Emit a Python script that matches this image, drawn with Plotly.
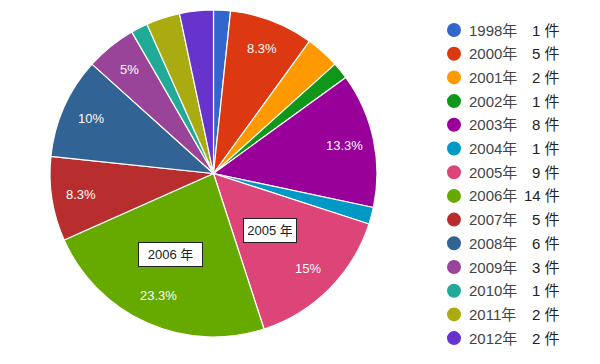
import math
import plotly.graph_objects as go

years = ["1998年", "2000年", "2001年", "2002年", "2003年", "2004年", "2005年",
         "2006年", "2007年", "2008年", "2009年", "2010年", "2011年", "2012年"]
counts = [1, 5, 2, 1, 8, 1, 9, 14, 5, 6, 3, 1, 2, 2]
colors = ["#3366cc", "#dc3912", "#ff9900", "#109618", "#990099", "#0099c6", "#dd4477",
          "#66aa00", "#b82e2e", "#316395", "#994499", "#22aa99", "#aaaa11", "#6633cc"]
callouts = ["2005 年", "2006 年"]

W, H = 600, 364
CX, CY, R = 213.5, 173.5, 163.5  # pie centre / radius in pixels

total = sum(counts)
fig = go.Figure()
fig.add_trace(go.Pie(
    labels=years, values=counts, textinfo="none",
    sort=False, direction="clockwise", rotation=0,
    marker=dict(colors=colors, line=dict(color="white", width=1.2)),
    domain=dict(x=[(CX - R) / W, (CX + R) / W], y=[(H - CY - R) / H, (H - CY + R) / H]),
    showlegend=False, hoverinfo="label+value+percent",
))

annotations = []
# percentage labels placed at 0.82 R along each slice's mid-angle
cum = 0
for c in counts:
    mid = (cum + c / 2) / total * 2 * math.pi
    cum += c
    p = c / total * 100
    if p < 5:
        continue
    s = f"{p:.1f}".rstrip("0").rstrip(".") + "%"
    r = 0.82 * R
    px = CX + r * math.sin(mid)
    py = CY - r * math.cos(mid)
    annotations.append(dict(text=s, xref="paper", yref="paper",
                            x=px / W, y=(H - py) / H, xanchor="center", yanchor="middle",
                            showarrow=False,
                            font=dict(size=13, color="white", family="Liberation Sans")))

shapes = []
y0 = 30
step = 23.7
for i, (yr, c, col) in enumerate(zip(years, counts, colors)):
    y = y0 + i * step
    shapes.append(dict(type="circle", xref="paper", yref="paper",
                       x0=(454 - 7) / W, x1=(454 + 7) / W,
                       y0=(H - y - 7) / H, y1=(H - y + 7) / H,
                       fillcolor=col, line=dict(width=0)))
    annotations.append(dict(text=yr, xref="paper", yref="paper",
                            x=467 / W, y=(H - y) / H, xanchor="left", yanchor="middle",
                            showarrow=False,
                            font=dict(size=15, color="#444444", family="Liberation Sans, Noto Sans CJK JP")))
    annotations.append(dict(text=f"{c} 件", xref="paper", yref="paper",
                            x=562 / W, y=(H - y) / H, xanchor="right", yanchor="middle",
                            showarrow=False,
                            font=dict(size=15, color="#222222", family="Liberation Sans, Noto Sans CJK JP")))

# callout boxes
for txt, (cx, cy), bw in zip(callouts, [(270, 230.5), (170, 255)], [44, 55]):
    annotations.append(dict(text=txt, xref="paper", yref="paper",
                            x=cx / W, y=(H - cy) / H, xanchor="center", yanchor="middle",
                            showarrow=False, bgcolor="white", bordercolor="#222222",
                            borderwidth=1, borderpad=4, width=bw, height=15,
                            font=dict(size=13, color="#222222", family="Liberation Sans, Noto Sans CJK JP")))

fig.update_layout(width=W, height=H, margin=dict(l=0, r=0, t=0, b=0),
                  paper_bgcolor="white", plot_bgcolor="white",
                  shapes=shapes, annotations=annotations)
fig.write_html("out.html", config={"displayModeBar": False},
               post_script="document.body.style.margin='0';")
